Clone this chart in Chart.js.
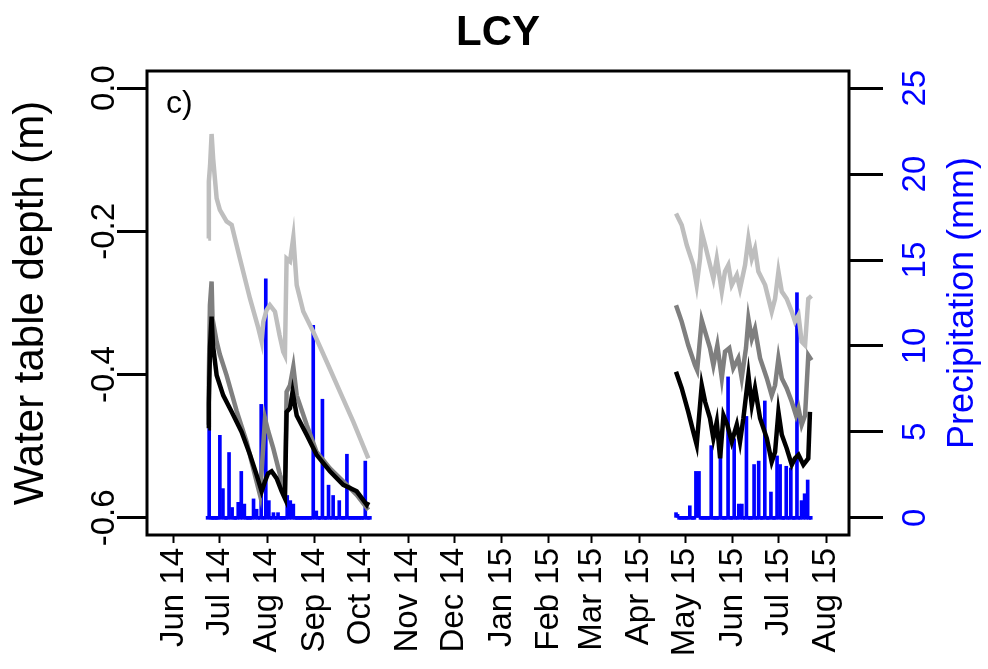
<!DOCTYPE html>
<html>
<head>
<meta charset="utf-8">
<script src="https://cdn.jsdelivr.net/npm/chart.js@4.4.1/dist/chart.umd.min.js"></script>
<style>
  html, body { margin: 0; padding: 0; background: #fff; }
  canvas { display: block; }
</style>
</head>
<body>
<canvas id="c" width="988" height="669"></canvas>
<script>
// x values are days since 1 Jun 2014
const tickDays   = [0, 30, 61, 92, 122, 153, 183, 214, 245, 273, 304, 334, 365, 395, 426];
const tickLabels = ['Jun 14','Jul 14','Aug 14','Sep 14','Oct 14','Nov 14','Dec 14','Jan 15',
                    'Feb 15','Mar 15','Apr 15','May 15','Jun 15','Jul 15','Aug 15'];
const depthTicks  = [-0.6, -0.4, -0.2, 0.0];
const precipTicks = [0, 5, 10, 15, 20, 25];

// water table depth (m), light grey well
const lightDays14 = [22.4, 22.8, 23.6, 24.6, 25.6, 27.9, 30, 34.4, 37.7, 43.1, 49.7, 55, 57.3, 58.4, 60.5,
                     62.7, 66, 69, 71.4, 72.5, 73.6, 75.8, 78, 80.2, 84.5, 91, 99.8, 108.5, 117.2, 127];
const lightVals14 = [-0.210, -0.130, -0.108, -0.064, -0.098, -0.154, -0.170, -0.186, -0.191, -0.238,
                     -0.294, -0.334, -0.354, -0.326, -0.310, -0.303, -0.312, -0.345, -0.368, -0.373,
                     -0.238, -0.242, -0.208, -0.275, -0.312, -0.340, -0.382, -0.424, -0.466, -0.517];
const lightDays15 = [328, 331.7, 335, 339.3, 341.5, 343.7, 344.8, 347, 350.2, 352.4, 354.6, 357.9, 360,
                     362.2, 364.4, 367.7, 369.8, 373.1, 375.3, 377.5, 379.6, 381.8, 386.2, 390.5, 392.7,
                     394.9, 397.1, 400.3, 403.6, 405.7, 408, 410.1, 412.3, 414.4, 416.5];
const lightVals15 = [-0.175, -0.191, -0.219, -0.247, -0.275, -0.238, -0.201, -0.219, -0.247, -0.266,
                     -0.238, -0.284, -0.256, -0.247, -0.275, -0.261, -0.280, -0.247, -0.210, -0.238,
                     -0.224, -0.256, -0.275, -0.312, -0.294, -0.256, -0.284, -0.294, -0.312, -0.326,
                     -0.317, -0.354, -0.359, -0.294, -0.290];

// mid grey well
const midDays14 = [22.4, 22.8, 23.5, 24.6, 25.2, 27.9, 30, 34.4, 41, 47.5, 51.8, 56.2, 57.3, 59.5, 61.6,
                   64.9, 69.3, 72.5, 73.6, 75.8, 78, 80.2, 86.7, 93.2, 101.9, 110.6, 119.4, 127];
const midVals14 = [-0.470, -0.405, -0.303, -0.270, -0.322, -0.354, -0.372, -0.401, -0.451, -0.494,
                   -0.531, -0.568, -0.535, -0.461, -0.479, -0.503, -0.540, -0.563, -0.424, -0.415,
                   -0.389, -0.429, -0.470, -0.508, -0.531, -0.549, -0.568, -0.589];
const midDays15 = [328, 331.7, 336, 340.4, 341.8, 344.8, 347, 350.2, 352.4, 355, 357.9, 360, 362.8,
                   365.4, 368.7, 370.9, 373.7, 375.3, 377.5, 379.6, 382.9, 387.3, 390.5, 392.7, 394.9,
                   397.1, 400.3, 403.6, 406.4, 408, 410.1, 412.3, 414.4, 416.5];
const midVals15 = [-0.303, -0.326, -0.359, -0.387, -0.394, -0.324, -0.340, -0.363, -0.387, -0.359,
                   -0.405, -0.368, -0.363, -0.391, -0.377, -0.405, -0.363, -0.322, -0.350, -0.336,
                   -0.377, -0.405, -0.429, -0.415, -0.377, -0.405, -0.419, -0.438, -0.457, -0.447,
                   -0.470, -0.457, -0.373, -0.380];

// black well
const blackDays14 = [22.4, 22.8, 23.6, 24.6, 25.5, 27.9, 32.2, 37.7, 44.2, 49.7, 54, 57.3, 59.5, 61.5,
                     63.8, 67.1, 70.4, 72.5, 73.6, 75.8, 77.5, 80.2, 86.7, 93.2, 101.9, 110.6, 119.4,
                     126, 127];
const blackVals14 = [-0.475, -0.440, -0.360, -0.319, -0.359, -0.401, -0.429, -0.452, -0.480, -0.512,
                     -0.540, -0.563, -0.549, -0.538, -0.535, -0.545, -0.563, -0.573, -0.452, -0.447,
                     -0.424, -0.457, -0.484, -0.512, -0.535, -0.554, -0.563, -0.582, -0.578];
const blackDays15 = [328, 331.7, 336, 339.3, 341.5, 344.8, 347, 350.2, 352.4, 354.6, 356.8, 359, 361.5,
                     364.4, 367.7, 369.8, 372, 375.3, 377.5, 379.6, 382.9, 387.3, 390.5, 392.7, 394.9,
                     397.1, 400.3, 403.6, 405.7, 408, 411.2, 414.4, 415.5];
const blackVals15 = [-0.396, -0.419, -0.452, -0.480, -0.498, -0.415, -0.438, -0.461, -0.489, -0.466,
                     -0.517, -0.457, -0.470, -0.494, -0.470, -0.494, -0.461, -0.401, -0.443, -0.419,
                     -0.461, -0.489, -0.522, -0.508, -0.452, -0.484, -0.503, -0.526, -0.517, -0.512,
                     -0.526, -0.517, -0.452];

// daily precipitation (mm): record periods, rainy days and amounts (other days 0)
const precipPeriods = [[22, 128], [328, 416]];
const rainDays = [23, 30, 32, 36, 38, 42, 44, 46, 52, 54, 57, 60, 62, 65, 68, 74, 76, 78, 91, 93, 97,
                  101, 104, 108, 113, 125,
                  328, 329, 337, 341, 342, 343, 351, 357, 362, 366, 369, 371, 374, 379, 382, 386, 390,
                  394, 396, 400, 403, 407, 410, 412, 414];
const rainMm   = [5.2, 4.8, 1.7, 3.8, 0.6, 0.9, 2.7, 0.8, 1.1, 0.5, 6.6, 13.9, 1.0, 0.3, 0.3, 1.3, 1.0,
                  0.8, 11.2, 0.4, 6.9, 1.9, 1.3, 1.0, 3.7, 3.3,
                  0.3, 0.2, 0.7, 2.7, 2.6, 2.7, 4.2, 4.8, 8.2, 4.6, 0.8, 0.8, 5.9, 3.1, 3.3, 6.8, 1.5,
                  3.6, 3.1, 3.0, 2.9, 13.1, 1.0, 1.4, 2.2];

const FONT = "'Liberation Sans', Arial, sans-serif";

function joinSegments(d1, v1, d2, v2){
  const pts = d1.map((d, i) => ({x: d, y: v1[i]}));
  pts.push({x: 200, y: null});
  return pts.concat(d2.map((d, i) => ({x: d, y: v2[i]})));
}

function precipPoints(){
  const pts = [];
  precipPeriods.forEach(([a, b]) => {
    for(let d = a; d <= b; d++){
      const k = rainDays.indexOf(d);
      pts.push({x: d, y: k >= 0 ? rainMm[k] : 0});
    }
  });
  return pts;
}

const framePlugin = {
  id: 'frame',
  afterDraw(chart){
    const {ctx, chartArea: a} = chart;
    ctx.save();
    ctx.strokeStyle = '#000';
    ctx.lineWidth = 3;
    ctx.strokeRect(a.left, a.top, a.right - a.left, a.bottom - a.top);
    ctx.fillStyle = '#000';
    ctx.font = `32px ${FONT}`;
    ctx.textBaseline = 'alphabetic';
    ctx.fillText('c)', a.left + 19, a.top + 42);
    // right axis title, reading bottom to top
    ctx.fillStyle = '#0000FF';
    ctx.font = `36px ${FONT}`;
    ctx.translate(963, (a.top + a.bottom) / 2);
    ctx.rotate(-Math.PI / 2);
    ctx.textAlign = 'center';
    ctx.textBaseline = 'middle';
    ctx.fillText('Precipitation (mm)', 0, 0);
    ctx.restore();
  }
};

const lineDs = (label, color, pts) => ({
  type: 'line', label, data: pts, yAxisID: 'y',
  borderColor: color, borderWidth: 4.5, pointRadius: 0, tension: 0, spanGaps: false
});

new Chart(document.getElementById('c'), {
  data: {
    datasets: [
      lineDs('black', '#000000', joinSegments(blackDays14, blackVals14, blackDays15, blackVals15)),
      lineDs('mid', '#7F7F7F', joinSegments(midDays14, midVals14, midDays15, midVals15)),
      lineDs('light', '#BEBEBE', joinSegments(lightDays14, lightVals14, lightDays15, lightVals15)),
      { type: 'bar', label: 'precip', data: precipPoints(), yAxisID: 'y1',
        backgroundColor: '#0000FF', barThickness: 3, minBarLength: 3, borderWidth: 0 }
    ]
  },
  options: {
    responsive: false,
    devicePixelRatio: 1,
    animation: false,
    layout: { padding: 0 },
    plugins: {
      legend: { display: false },
      tooltip: { enabled: false },
      title: {
        display: true, text: 'LCY', color: '#000', fullSize: false,
        font: { family: FONT, size: 42, weight: 'bold' },
        padding: { top: 8, bottom: 12.6 }
      }
    },
    scales: {
      x: {
        type: 'linear', min: -17.6, max: 441, offset: false,
        afterBuildTicks: s => { s.ticks = tickDays.map(v => ({value: v})); },
        afterFit: s => { s.height = 134; },
        border: { display: false },
        grid: { offset: false, drawOnChartArea: false, drawTicks: true, tickLength: 8, tickWidth: 2, tickColor: '#000' },
        ticks: {
          autoSkip: false, minRotation: 90, maxRotation: 90, color: '#000', padding: 5,
          labelOffset: 0,
          font: { family: FONT, size: 33 },
          callback: (v, i) => tickLabels[i]
        }
      },
      y: {
        position: 'left', min: -0.624, max: 0.024,
        afterBuildTicks: s => { s.ticks = depthTicks.map(v => ({value: v})); },
        afterFit: s => { s.width = 147; },
        border: { display: false },
        grid: { drawOnChartArea: false, tickLength: 30, tickWidth: 3, tickColor: '#000' },
        ticks: {
          minRotation: 90, maxRotation: 90, crossAlign: 'center', padding: -16, color: '#000',
          font: { family: FONT, size: 33 },
          callback: v => v.toFixed(1)
        },
        title: {
          display: true, text: 'Water table depth (m)', color: '#000',
          font: { family: FONT, size: 42 }, padding: { top: 6, bottom: 0 }
        }
      },
      y1: {
        position: 'right', min: -1, max: 26,
        afterBuildTicks: s => { s.ticks = precipTicks.map(v => ({value: v})); },
        afterFit: s => { s.width = 139; },
        border: { display: false },
        grid: { drawOnChartArea: false, tickLength: 34, tickWidth: 3, tickColor: '#000' },
        ticks: {
          minRotation: 90, maxRotation: 90, crossAlign: 'center', padding: 15, color: '#0000FF',
          font: { family: FONT, size: 33 },
          callback: v => String(v)
        }
      }
    }
  },
  plugins: [framePlugin]
});
</script>
</body>
</html>
